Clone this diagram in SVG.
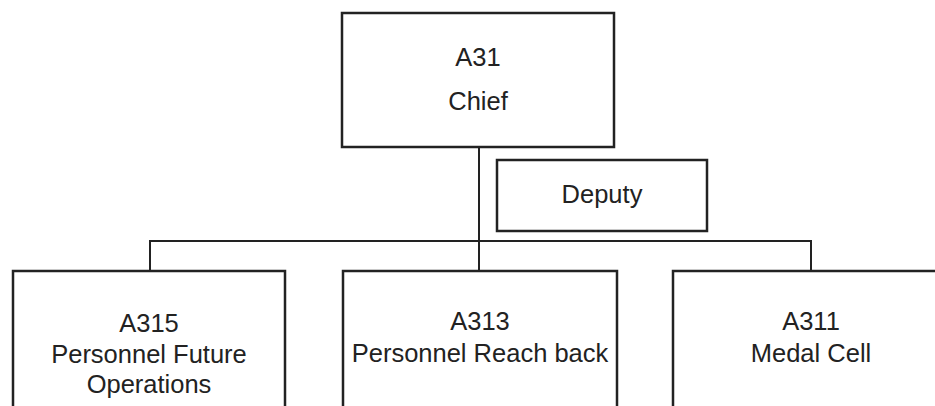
<svg xmlns="http://www.w3.org/2000/svg" width="935" height="406" viewBox="0 0 935 406">
<style>
.box{fill:#fff;stroke:#222;stroke-width:2.5}
.conn{fill:none;stroke:#222;stroke-width:2}
text{font-family:"Liberation Sans",Arial,sans-serif;font-size:25.5px;fill:#222;text-anchor:middle}
</style>
<rect width="935" height="406" fill="#fff"/>
<g id="connectors">
<line class="conn" x1="479" y1="147" x2="479" y2="271"/>
<polyline class="conn" points="150,271 150,241 811,241 811,271"/>
</g>
<g id="chief">
<rect class="box" x="342" y="13" width="272" height="134"/>
<text x="478" y="66">A31<tspan x="478" dy="44">Chief</tspan></text>
</g>
<g id="deputy">
<rect class="box" x="497" y="160" width="210" height="71"/>
<text x="602" y="203">Deputy</text>
</g>
<g id="a315">
<rect class="box" x="13" y="271" width="272" height="150"/>
<text x="149" y="332">A315<tspan x="149" dy="31">Personnel Future</tspan><tspan x="149" dy="30">Operations</tspan></text>
</g>
<g id="a313">
<rect class="box" x="343" y="271" width="274" height="150"/>
<text x="480" y="330">A313<tspan x="480" dy="32">Personnel Reach back</tspan></text>
</g>
<g id="a311">
<rect class="box" x="673" y="271" width="276" height="150"/>
<text x="811" y="330">A311<tspan x="811" dy="32">Medal Cell</tspan></text>
</g>
</svg>
